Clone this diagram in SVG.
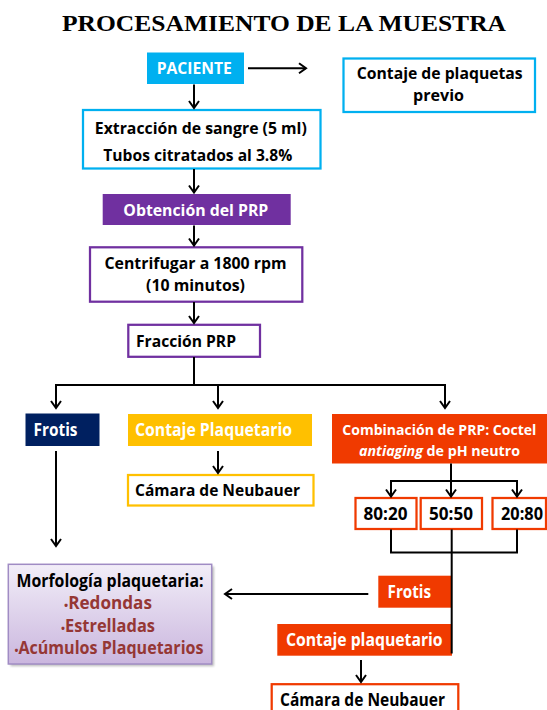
<svg xmlns="http://www.w3.org/2000/svg" width="547" height="710" viewBox="0 0 547 710">
<style>
  .t { font-family: "Open Sans", "Noto Sans", "Liberation Sans", sans-serif; font-weight: bold; font-size: 16px; text-anchor: middle; }
  .l { font-size: 17px; }
  .w { fill: #ffffff; }
  .k { fill: #000000; }
  .r { fill: #953735; }
  .b { font-size: 11px; }
  .title { font-family: "Liberation Serif", "Times New Roman", serif; font-weight: bold; font-size: 24px; text-anchor: middle; fill: #000; }
  .blueS { fill: #ffffff; stroke: #00B0F0; stroke-width: 2.25; }
  .purS { fill: #ffffff; stroke: #7030A0; stroke-width: 2.25; }
  .yelS { fill: #ffffff; stroke: #FFC000; stroke-width: 2.25; }
  .orS { fill: #ffffff; stroke: #F03A00; stroke-width: 2.25; }
  .conn line, .conn polyline, .conn path { stroke: #000; stroke-width: 2; fill: none; }
  .arr { marker-end: url(#ah); }
</style>
<defs>
  <marker id="ah" viewBox="-9 -7 11 14" refX="0" refY="0" markerWidth="11" markerHeight="14" markerUnits="userSpaceOnUse" orient="auto">
    <path d="M-7,-5 L0,0 L-7,5" fill="none" stroke="#000" stroke-width="2"/>
  </marker>
  <linearGradient id="lav" x1="0" y1="0" x2="0" y2="1">
    <stop offset="0" stop-color="#F2EEF8"/>
    <stop offset="1" stop-color="#CAB6DE"/>
  </linearGradient>
  <filter id="sh" x="-10%" y="-10%" width="130%" height="130%">
    <feGaussianBlur stdDeviation="1.2"/>
  </filter>
</defs>

<text class="title" x="284" y="31" textLength="444" lengthAdjust="spacingAndGlyphs">PROCESAMIENTO DE LA MUESTRA</text>

<g id="paciente">
  <rect x="147" y="52.5" width="97" height="31.5" fill="#00B0F0"/>
  <text class="t w" x="194.2" y="73.5" textLength="75" lengthAdjust="spacingAndGlyphs">PACIENTE</text>
</g>
<g id="contaje-previo">
  <rect class="blueS" x="343.5" y="58.5" width="191.5" height="53.5"/>
  <text class="t k" x="439.7" y="78.5" textLength="166" lengthAdjust="spacingAndGlyphs">Contaje de plaquetas</text>
  <text class="t k" x="438.5" y="101" textLength="51" lengthAdjust="spacingAndGlyphs">previo</text>
</g>
<g id="extraccion">
  <rect class="blueS" x="83" y="110" width="237.5" height="58.5"/>
  <text class="t k" x="200.8" y="134" textLength="212" lengthAdjust="spacingAndGlyphs">Extracción de sangre (5 ml)</text>
  <text class="t k" x="197.8" y="161" textLength="189" lengthAdjust="spacingAndGlyphs">Tubos citratados al 3.8%</text>
</g>
<g id="obtencion">
  <rect x="102.7" y="194" width="188" height="31" fill="#7030A0"/>
  <text class="t w" x="195.8" y="215.5" textLength="145" lengthAdjust="spacingAndGlyphs">Obtención del PRP</text>
</g>
<g id="centrifugar">
  <rect class="purS" x="90" y="247.3" width="212.3" height="54.4"/>
  <text class="t k" x="195.5" y="269" textLength="182" lengthAdjust="spacingAndGlyphs">Centrifugar a 1800 rpm</text>
  <text class="t k" x="195.5" y="290.5" textLength="99" lengthAdjust="spacingAndGlyphs">(10 minutos)</text>
</g>
<g id="fraccion">
  <rect class="purS" x="128.3" y="324.8" width="131.7" height="32"/>
  <text class="t k" x="186" y="347" textLength="100" lengthAdjust="spacingAndGlyphs">Fracción PRP</text>
</g>
<g id="frotis1">
  <rect x="25.5" y="413.5" width="74" height="32.5" fill="#002060"/>
  <text class="t w l" x="55.5" y="436" textLength="44" lengthAdjust="spacingAndGlyphs">Frotis</text>
</g>
<g id="contaje-plaquetario">
  <rect x="128" y="414" width="184" height="32" fill="#FFC000"/>
  <text class="t w l" x="213.5" y="436" textLength="157" lengthAdjust="spacingAndGlyphs">Contaje Plaquetario</text>
</g>
<g id="camara1">
  <rect class="yelS" x="128" y="475" width="185.5" height="30.5"/>
  <text class="t k" x="217.5" y="496" textLength="165" lengthAdjust="spacingAndGlyphs">Cámara de Neubauer</text>
</g>
<g id="combinacion">
  <rect x="332" y="414" width="215" height="49.5" fill="#F03A00"/>
  <text class="t w" style="font-size:14px" x="439.3" y="435" textLength="194" lengthAdjust="spacingAndGlyphs">Combinación de PRP: Coctel</text>
  <text class="t w" style="font-size:15px" x="439.5" y="455.5" textLength="161" lengthAdjust="spacingAndGlyphs"><tspan font-style="italic">antiaging</tspan> de pH neutro</text>
</g>
<g id="r8020">
  <rect class="orS" x="355.5" y="498" width="61" height="31"/>
  <text class="t k l" x="385.5" y="520" textLength="44" lengthAdjust="spacingAndGlyphs">80:20</text>
</g>
<g id="r5050">
  <rect class="orS" x="420.7" y="498" width="61.3" height="31"/>
  <text class="t k l" x="451" y="520" textLength="44" lengthAdjust="spacingAndGlyphs">50:50</text>
</g>
<g id="r2080">
  <rect class="orS" x="492.5" y="498" width="53.5" height="31"/>
  <text class="t k l" x="522" y="520" textLength="42" lengthAdjust="spacingAndGlyphs">20:80</text>
</g>
<g id="morfologia">
  <rect x="10.5" y="566.5" width="203.5" height="99.7" fill="#888" opacity="0.55" filter="url(#sh)"/>
  <rect x="8.3" y="564.3" width="203.4" height="99.7" fill="url(#lav)" stroke="#A08CC4" stroke-width="1.5"/>
  <text class="t k l" x="110" y="586.5" textLength="187" lengthAdjust="spacingAndGlyphs">Morfología plaquetaria:</text>
  <text class="t r l" x="108" y="609.3" textLength="88" lengthAdjust="spacingAndGlyphs"><tspan class="b">•</tspan>Redondas</text>
  <text class="t r l" x="108" y="631.5" textLength="94" lengthAdjust="spacingAndGlyphs"><tspan class="b">•</tspan>Estrelladas</text>
  <text class="t r l" x="109" y="654" textLength="189" lengthAdjust="spacingAndGlyphs"><tspan class="b">•</tspan>Acúmulos Plaquetarios</text>
</g>
<g id="frotis2">
  <rect x="378.3" y="575.7" width="73.7" height="32" fill="#F03A00"/>
  <text class="t w l" x="409.3" y="597.7" textLength="43.5" lengthAdjust="spacingAndGlyphs">Frotis</text>
</g>
<g id="contaje-plaquetario2">
  <rect x="277.3" y="624" width="174.7" height="31.7" fill="#F03A00"/>
  <text class="t w l" x="364.3" y="645.5" textLength="156.7" lengthAdjust="spacingAndGlyphs">Contaje plaquetario</text>
</g>
<g id="camara2">
  <rect class="orS" x="271.7" y="684.2" width="186.6" height="40"/>
  <text class="t k l" x="362.5" y="705.7" textLength="165" lengthAdjust="spacingAndGlyphs">Cámara de Neubauer</text>
</g>

<g id="connectors" class="conn">
  <line class="arr" x1="248" y1="68.3" x2="306" y2="68.3"/>
  <line class="arr" x1="194" y1="84.5" x2="194" y2="108"/>
  <line class="arr" x1="194" y1="169" x2="194" y2="192.5"/>
  <line class="arr" x1="194" y1="225.5" x2="194" y2="245.5"/>
  <line class="arr" x1="194" y1="302" x2="194" y2="323"/>
  <polyline points="194,357 194,385"/>
  <polyline points="56,385 445,385"/>
  <line class="arr" x1="56" y1="384" x2="56" y2="408"/>
  <line class="arr" x1="218" y1="385" x2="218" y2="408"/>
  <line class="arr" x1="445" y1="384" x2="445" y2="408"/>
  <line class="arr" x1="218" y1="451" x2="218" y2="473"/>
  <line class="arr" x1="56" y1="451" x2="56" y2="546"/>
  <polyline points="451,463.5 451,481"/>
  <polyline points="391,481 517,481"/>
  <line class="arr" x1="391" y1="480" x2="391" y2="496.5"/>
  <line class="arr" x1="451" y1="481" x2="451" y2="496.5"/>
  <line class="arr" x1="517" y1="480" x2="517" y2="496.5"/>
  <polyline points="391,529.5 391,552.5 517,552.5 517,529.5"/>
  <line x1="451.7" y1="529.5" x2="451.7" y2="653.5"/>
  <line class="arr" x1="368.3" y1="594" x2="225" y2="594"/>
  <line class="arr" x1="361" y1="660" x2="361" y2="682"/>
</g>
</svg>
